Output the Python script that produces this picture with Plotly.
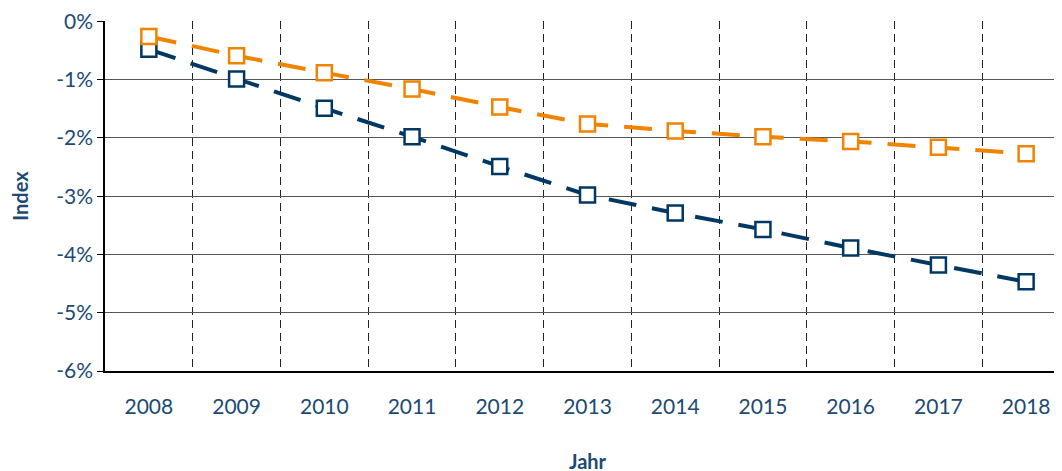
import plotly.graph_objects as go

years = ['2008', '2009', '2010', '2011', '2012', '2013', '2014', '2015', '2016', '2017', '2018']
series_orange = [-0.26, -0.59, -0.88, -1.16, -1.47, -1.76, -1.88, -1.98, -2.06, -2.16, -2.27]
series_navy = [-0.48, -0.99, -1.49, -1.98, -2.49, -2.98, -3.29, -3.57, -3.89, -4.18, -4.47]
y_ticks = [0, -1, -2, -3, -4, -5, -6]
y_labels = ['0%', '-1%', '-2%', '-3%', '-4%', '-5%', '-6%']

navy = '#003863'
orange = '#f08300'
text_color = '#1c4a72'

figure = go.Figure()

# navy line first so the orange one sits on top where they are close
figure.add_trace(go.Scatter(x=years, y=series_navy, mode='lines',
                            line=dict(color=navy, width=4, dash='28px,16px')))
figure.add_trace(go.Scatter(x=years, y=series_orange, mode='lines',
                            line=dict(color=orange, width=4, dash='28px,16px')))

# open squares with white fill
for ys, col in [(series_navy, navy), (series_orange, orange)]:
    figure.add_trace(go.Scatter(x=years, y=ys, mode='markers',
                                marker=dict(symbol='square', size=15, color='white',
                                            line=dict(width=2.5, color=col))))

# page body has an 8px margin, margins below are compensated for it
figure.update_layout(width=1062, height=471, showlegend=False,
                     plot_bgcolor='#ffffff', paper_bgcolor='#ffffff',
                     margin=dict(l=97, r=0, t=11, b=108),
                     font=dict(family='Lato, Open Sans, sans-serif', color=text_color, size=21))

# tiny headroom so the 0% gridline is still drawn at the top
figure.update_yaxes(range=[-6, 0.006], tickvals=y_ticks, ticktext=y_labels,
                    showgrid=True, gridcolor='#555555', gridwidth=1,
                    showline=True, linecolor='#000000', linewidth=1.5,
                    ticks='outside', ticklen=6, tickcolor='#000000',
                    tickfont=dict(size=21, color=text_color), ticklabeloverflow='allow',
                    zeroline=False,
                    title=dict(text='<b>Index</b>', font=dict(size=20, color=text_color), standoff=22))

figure.update_xaxes(type='category', range=[-0.5, 10.5], tickson='boundaries',
                    showgrid=True, gridcolor='#222222', gridwidth=1, griddash='8px,5px',
                    showline=True, linecolor='#000000', linewidth=1.5,
                    ticks='', ticklabelstandoff=16,
                    tickfont=dict(size=21, color=text_color),
                    title=dict(text='<b>Jahr</b>', font=dict(size=20, color=text_color), standoff=38))

figure.write_html('out.html')
